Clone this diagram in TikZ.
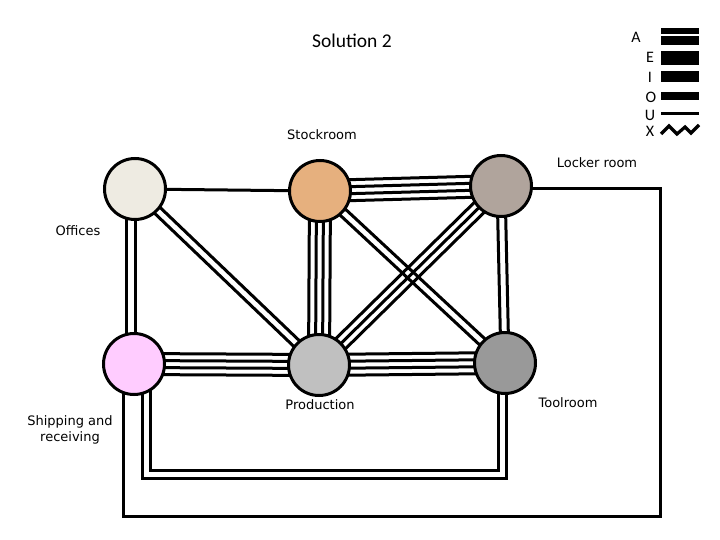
\documentclass[tikz,border=0pt]{standalone}
\usepackage{fontspec}
\setmainfont{Carlito}
\newfontfamily\labfont{DejaVu Sans}
\usetikzlibrary{calc}
\pgfdeclarelayer{back}
\pgfdeclarelayer{bg}
\pgfsetlayers{back,bg,main}
\definecolor{offc}{RGB}{238,235,226}
\definecolor{stoc}{RGB}{230,176,126}
\definecolor{lockc}{RGB}{176,164,156}
\definecolor{shipc}{RGB}{255,204,255}
\definecolor{prodc}{RGB}{192,192,192}
\definecolor{toolc}{RGB}{153,153,153}
\begin{document}
\begin{tikzpicture}[x=1pt,y=-1pt,
  room/.style={circle,draw=black,line width=3pt,minimum size=61pt,inner sep=0pt},
  conn/.style={line width=3pt,line cap=butt,line join=miter},
  lab/.style={font=\labfont\fontsize{13}{16}\selectfont,inner sep=0pt,align=center},
  leg/.style={font=\fontsize{16}{16}\selectfont,inner sep=0pt},
  bar/.style={fill=black,draw=none}]
\begin{pgfonlayer}{back}
\fill[white] (0,0) rectangle (720,540);
\end{pgfonlayer}
\useasboundingbox (0,0) rectangle (720,540);

% title
\node[font=\fontsize{19.5}{20}\selectfont,inner sep=0pt] (title) at (352,41) {Solution 2};

% rooms
\node[room,fill=offc]  (of) at (135,189) {};
\node[room,fill=stoc]  (st) at (320,191) {};
\node[room,fill=lockc] (lr) at (501,186) {};
\node[room,fill=shipc] (sh) at (134,364) {};
\node[room,fill=prodc] (pr) at (319,365) {};
\node[room,fill=toolc] (tr) at (505,363) {};

% labels
\node[lab] (lst) at (322,135) {Stockroom};
\node[lab] (llr) at (597,163) {Locker room};
\node[lab] (lof) at (78,231) {Offices};
\node[lab] (lsh) at (70,430) {Shipping and\\receiving};
\node[lab] (lpr) at (320,405) {Production};
\node[lab] (ltr) at (568,403) {Toolroom};

% legend
\node[leg] (kA) at (636,37.5) {A};
\node[leg] (kE) at (650,57.5) {E};
\node[leg] (kI) at (650,77) {I};
\node[leg] (kO) at (651,97) {O};
\node[leg] (kU) at (650,115) {U};
\node[leg] (kX) at (650,131) {X};
\fill[bar] (661,28) rectangle (699,34.3);
\fill[bar] (661,36) rectangle (699,45);
\fill[bar] (661,51) rectangle (699,65);
\fill[bar] (661,71) rectangle (699,82);
\fill[bar] (661,92) rectangle (699,100);
\draw[line width=3pt] (661,113.3) -- (699,113.3);
\draw[line width=3.2pt,line join=miter] (661,134) -- (669,126) -- (677,134) -- (685,127) -- (691,133) -- (699,125);

\begin{pgfonlayer}{bg}
% A : four lines
\foreach \a/\b in {st/lr, st/pr, sh/pr, pr/tr}{
  \foreach \k in {-10.5,-3.5,3.5,10.5}
    \draw[conn] ($(\a.center)!\k pt!90:(\b.center)$) -- ($(\b.center)!\k pt!-90:(\a.center)$);
}
% E : three lines
\foreach \k in {-7,0,7}
  \draw[conn] ($(lr.center)!\k pt!90:(pr.center)$) -- ($(pr.center)!\k pt!-90:(lr.center)$);
% I : two lines
\foreach \a/\b in {of/pr, st/tr, lr/tr}{
  \foreach \k in {-4,4}
    \draw[conn] ($(\a.center)!\k pt!90:(\b.center)$) -- ($(\b.center)!\k pt!-90:(\a.center)$);
}
\foreach \x in {126.5,135.5}
  \draw[conn] (of.center -| \x,0) -- (sh.center -| \x,0);
% O : one line
\draw[conn] (of.center) -- (st.center);
% shipping - toolroom, two lines routed below
\coordinate (u1) at (142,478);
\coordinate (u2) at (506,478);
\coordinate (v1) at (150,470);
\coordinate (v2) at (498,470);
\draw[conn] (sh.center -| u1) -- (u1) -- (u2) -- (tr.center -| u2);
\draw[conn] (sh.center -| v1) -- (v1) -- (v2) -- (tr.center -| v2);
% locker room - shipping, one line round the outside
\coordinate (c1) at (660,189);
\coordinate (c2) at (660,516);
\coordinate (c3) at (123,516);
\draw[conn] (lr.center |- c1) -- (c1) -- (c2) -- (c3) -- (sh.center -| c3);
\end{pgfonlayer}
\end{tikzpicture}
\end{document}
